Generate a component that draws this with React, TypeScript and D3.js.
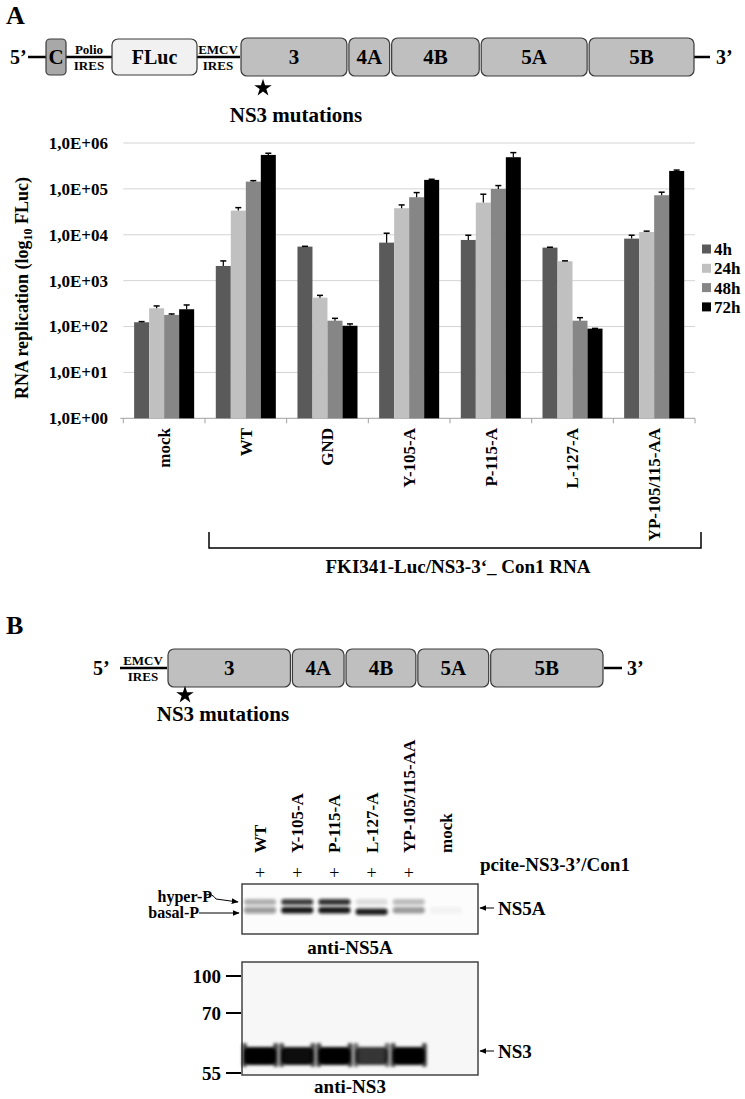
import * as d3 from "d3";

// ---- panel A bar chart data ----
const groups = ["mock", "WT", "GND", "Y-105-A", "P-115-A", "L-127-A", "YP-105/115-AA"];
const timepoints = ["4h", "24h", "48h", "72h"];
const barColors = ["#5a5a5a", "#c0c0c0", "#868686", "#000000"];

const values4h = [124, 2090, 5520, 6740, 7710, 5250, 8240];
const values24h = [250, 33600, 426, 37900, 50200, 2650, 11500];
const values48h = [179, 144000, 134, 65800, 100000, 134, 72700];
const values72h = [238, 550000, 104, 157000, 490000, 90, 246000];

const err4h = [4, 600, 80, 4060, 2060, 100, 1530];
const err24h = [31, 5400, 52, 6800, 26300, 50, 500];
const err48h = [9, 7000, 17, 17200, 18000, 22, 12000];
const err72h = [57, 48000, 10, 5000, 127000, 1, 11000];

const yTicks = [1, 10, 100, 1e3, 1e4, 1e5, 1e6];
const yTickLabels = ["1,0E+00", "1,0E+01", "1,0E+02", "1,0E+03", "1,0E+04", "1,0E+05", "1,0E+06"];

// ---- construct schematics (relative segment lengths) ----
const segA = ["3", "4A", "4B", "5A", "5B"];
const segALen = [106, 42, 88, 106, 105];
const segB = ["3", "4A", "4B", "5A", "5B"];
const segBLen = [123, 53, 71, 72, 113];

// ---- western blot ----
const lanes = ["WT", "Y-105-A", "P-115-A", "L-127-A", "YP-105/115-AA", "mock"];
const transfected = [true, true, true, true, true, false];
const hyperP = [0.3, 0.8, 0.85, 0.12, 0.25, 0];
const basalP = [0.42, 0.95, 0.95, 0.92, 0.38, 0.04];
const ns3Band = [1, 0.95, 1, 0.78, 1, 0];
const mwMarkers = [100, 70, 55];

const font = "'Liberation Serif', 'Times New Roman', serif";

function segmentsLayout(lens: number[], x0: number, x1: number) {
  const total = d3.sum(lens);
  const sc = d3.scaleLinear().domain([0, total]).range([x0, x1]);
  const cum = d3.cumsum(lens);
  return lens.map((l, i) => ({ x: sc(cum[i] - l), w: sc(cum[i]) - sc(cum[i] - l) }));
}

function Construct({ labels, lens, x0, x1, y, h, size }: any) {
  const segs = segmentsLayout(lens, x0, x1);
  return (
    <g>
      {segs.map((s, i) => (
        <g key={i}>
          <rect x={s.x + 1} y={y - h / 2} width={s.w - 2} height={h} rx={6} fill="#bfbfbf" stroke="#3a3a3a" strokeWidth={1.2} />
          <text x={s.x + s.w / 2} y={y} dy="0.35em" textAnchor="middle" fontSize={size} fontWeight="bold">{labels[i]}</text>
        </g>
      ))}
    </g>
  );
}

export default function App() {
  const W = 745, H = 1099;
  const plotL = 123.3, plotR = 695, plotT = 143, plotB = 418.3;

  const x = d3.scaleBand().domain(groups).range([plotL, plotR]).paddingInner(0.265).paddingOuter(0.1325);
  const xs = d3.scaleBand().domain(timepoints).range([0, x.bandwidth()]);
  const y = d3.scaleLog().domain([1, 1e6]).range([plotB, plotT]);
  const series = [values4h, values24h, values48h, values72h];
  const errs = [err4h, err24h, err48h, err72h];
  const step = (plotR - plotL) / groups.length;

  const lane = d3.scaleBand().domain(lanes).range([240, 466]).padding(0.08);
  const mw = d3.scaleLinear().domain([55, 70, 100]).range([1073, 1013, 976]);
  const star = d3.symbol().type(d3.symbolStar).size(95)();

  const segA0 = 240, segA1 = 695;
  const segB0 = 167, segB1 = 604;

  return (
    <svg width={W} height={H} style={{ position: "absolute", left: 0, top: 0, background: "#fff" }} fontFamily={font}>
      <defs>
        <filter id="blur" x="-20%" y="-50%" width="140%" height="200%">
          <feGaussianBlur stdDeviation="1.8" />
        </filter>
        <marker id="arr" viewBox="0 0 10 10" refX="9" refY="5" markerWidth="7" markerHeight="7" orient="auto">
          <path d="M0,1 L10,5 L0,9 z" fill="#000" />
        </marker>
      </defs>

      {/* ===== Panel A ===== */}
      <text x={6} y={24} fontSize={26} fontWeight="bold">A</text>

      {/* construct A */}
      <g>
        <text x={10} y={57} dy="0.35em" fontSize={20} fontWeight="bold">5’</text>
        <line x1={28} x2={240} y1={57} y2={57} stroke="#000" strokeWidth={2.5} />
        <line x1={694} x2={710} y1={57} y2={57} stroke="#000" strokeWidth={2.5} />
        <text x={716} y={57} dy="0.35em" fontSize={20} fontWeight="bold">3’</text>
        <rect x={46} y={39} width={20} height={36} rx={4} fill="#a8a8a8" stroke="#3a3a3a" strokeWidth={1.2} />
        <text x={56} y={57} dy="0.35em" textAnchor="middle" fontSize={21} fontWeight="bold">C</text>
        <text x={89} y={54} textAnchor="middle" fontSize={13} fontWeight="bold">Polio</text>
        <text x={89} y={70} textAnchor="middle" fontSize={13} fontWeight="bold">IRES</text>
        <rect x={112} y={39} width={85} height={36} rx={6} fill="#f1f1f1" stroke="#3a3a3a" strokeWidth={1.2} />
        <text x={154.5} y={57} dy="0.35em" textAnchor="middle" fontSize={20} fontWeight="bold">FLuc</text>
        <text x={218} y={54} textAnchor="middle" fontSize={13} fontWeight="bold">EMCV</text>
        <text x={218} y={70} textAnchor="middle" fontSize={13} fontWeight="bold">IRES</text>
        <Construct labels={segA} lens={segALen} x0={segA0} x1={segA1} y={57} h={38} size={21} />
        <path d={star!} transform="translate(263,88)" fill="#000" />
        <text x={296} y={122} textAnchor="middle" fontSize={21} fontWeight="bold">NS3 mutations</text>
      </g>

      {/* grid + axes */}
      <g>
        {yTicks.slice(1).map((t) => (
          <line key={t} x1={plotL} x2={plotR} y1={y(t)} y2={y(t)} stroke="#d4d4d4" strokeWidth={1} />
        ))}
        <line x1={plotL - 3} x2={plotR} y1={plotB} y2={plotB} stroke="#a0a0a0" strokeWidth={1} />
        {d3.range(groups.length + 1).map((i) => (
          <line key={i} x1={plotL + i * step} x2={plotL + i * step} y1={plotB} y2={plotB + 5} stroke="#a0a0a0" />
        ))}
        {yTicks.map((t, i) => (
          <text key={t} x={108} y={y(t)} dy="0.35em" textAnchor="end" fontSize={17} fontWeight="bold">{yTickLabels[i]}</text>
        ))}
        <text transform="translate(28,288) rotate(-90)" textAnchor="middle" fontSize={18} fontWeight="bold">
          RNA replication (log<tspan fontSize={12} dy={4}>10</tspan><tspan dy={-4}> FLuc)</tspan>
        </text>
      </g>

      {/* bars */}
      <g>
        {groups.map((g, gi) => (
          <g key={g} transform={`translate(${x(g)},0)`}>
            {timepoints.map((t, ti) => {
              const v = series[ti][gi];
              const e = errs[ti][gi];
              const bx = xs(t)!;
              const cx = bx + xs.bandwidth() / 2;
              return (
                <g key={t}>
                  <rect x={bx} y={y(v)} width={xs.bandwidth()} height={plotB - y(v)} fill={barColors[ti]} />
                  <line x1={cx} x2={cx} y1={y(v)} y2={y(v + e)} stroke="#000" strokeWidth={1.2} />
                  <line x1={cx - 3} x2={cx + 3} y1={y(v + e)} y2={y(v + e)} stroke="#000" strokeWidth={1.5} />
                </g>
              );
            })}
          </g>
        ))}
      </g>

      {/* x labels */}
      {groups.map((g) => {
        const cx = x(g)! + x.bandwidth() / 2;
        return (
          <text key={g} transform={`translate(${cx + 6},428) rotate(-90)`} textAnchor="end" fontSize={17} fontWeight="bold">{g}</text>
        );
      })}

      {/* legend */}
      {timepoints.map((t, i) => (
        <g key={t} transform={`translate(702,${249 + i * 19.3})`}>
          <rect x={0} y={-4.5} width={9} height={9} fill={barColors[i]} />
          <text x={12} y={0} dy="0.35em" fontSize={17} fontWeight="bold">{t}</text>
        </g>
      ))}

      {/* bracket */}
      <path d="M209,532 V548 H701 V532" fill="none" stroke="#000" strokeWidth={1.5} />
      <text x={458} y={573} textAnchor="middle" fontSize={19} fontWeight="bold">FKI341-Luc/NS3-3‘_ Con1 RNA</text>

      {/* ===== Panel B ===== */}
      <text x={6} y={634} fontSize={26} fontWeight="bold">B</text>
      <g>
        <text x={93} y={668} dy="0.35em" fontSize={20} fontWeight="bold">5’</text>
        <line x1={120} x2={167} y1={668} y2={668} stroke="#000" strokeWidth={2.5} />
        <text x={143} y={665} textAnchor="middle" fontSize={13} fontWeight="bold">EMCV</text>
        <text x={143} y={681} textAnchor="middle" fontSize={13} fontWeight="bold">IRES</text>
        <line x1={604} x2={622} y1={668} y2={668} stroke="#000" strokeWidth={2.5} />
        <text x={627} y={668} dy="0.35em" fontSize={20} fontWeight="bold">3’</text>
        <Construct labels={segB} lens={segBLen} x0={segB0} x1={segB1} y={668} h={38} size={21} />
        <path d={star!} transform="translate(185,695)" fill="#000" />
        <text x={223} y={721} textAnchor="middle" fontSize={21} fontWeight="bold">NS3 mutations</text>
      </g>

      {/* lane labels */}
      {lanes.map((l, i) => {
        const cx = lane(l)! + lane.bandwidth() / 2;
        return (
          <g key={l}>
            <text transform={`translate(${cx + 6},853) rotate(-90)`} textAnchor="start" fontSize={17} fontWeight="bold">{l}</text>
            {transfected[i] && (
              <text x={cx} y={879} textAnchor="middle" fontSize={18}>+</text>
            )}
          </g>
        );
      })}
      <text x={480} y={871} fontSize={19} fontWeight="bold">pcite-NS3-3’/Con1</text>

      {/* NS5A blot */}
      <rect x={242} y={884} width={236} height={50} fill="#fcfcfc" stroke="#444" strokeWidth={1.5} />
      <g filter="url(#blur)">
        {lanes.map((l, i) => {
          const bx = lane(l)!;
          return (
            <g key={l}>
              <rect x={bx + 1} y={899} width={lane.bandwidth() - 2} height={6} rx={3} fill="#111" opacity={hyperP[i]} />
              <rect x={bx + 1} y={907 + (i === 3 ? 1.5 : 0)} width={lane.bandwidth() - 2} height={6.5} rx={3} fill="#111" opacity={basalP[i]} />
            </g>
          );
        })}
      </g>
      <text x={212} y={902} textAnchor="end" fontSize={16} fontWeight="bold">hyper-P</text>
      <path d="M206,895 Q212,893 216,899 L238,902" fill="none" stroke="#000" strokeWidth={1} markerEnd="url(#arr)" />
      <text x={199} y={918} textAnchor="end" fontSize={16} fontWeight="bold">basal-P</text>
      <line x1={199} x2={239} y1={913} y2={913} stroke="#000" strokeWidth={1} markerEnd="url(#arr)" />
      <line x1={494} x2={480} y1={908} y2={908} stroke="#000" strokeWidth={1} markerEnd="url(#arr)" />
      <text x={498} y={908} dy="0.35em" fontSize={19} fontWeight="bold">NS5A</text>
      <text x={350} y={954} textAnchor="middle" fontSize={19} fontWeight="bold">anti-NS5A</text>

      {/* NS3 blot */}
      <rect x={242} y={962} width={236} height={113} fill="#f7f7f7" stroke="#444" strokeWidth={1.5} />
      <g filter="url(#blur)">
        {lanes.map((l, i) => {
          const bx = lane(l)!;
          return (
            <g key={l}>
              <rect x={bx + 1} y={1047} width={lane.bandwidth() - 2} height={18} rx={5} fill="#050505" opacity={ns3Band[i]} />
              <rect x={bx - 1} y={1043} width={5} height={24} rx={2} fill="#050505" opacity={ns3Band[i] * 0.7} />
              <rect x={bx + lane.bandwidth() - 4} y={1043} width={5} height={24} rx={2} fill="#050505" opacity={ns3Band[i] * 0.7} />
            </g>
          );
        })}
      </g>
      {mwMarkers.map((m) => (
        <g key={m}>
          <line x1={226} x2={241} y1={mw(m)} y2={mw(m)} stroke="#000" strokeWidth={2} />
          <text x={221} y={mw(m)} dy="0.35em" textAnchor="end" fontSize={19} fontWeight="bold">{m}</text>
        </g>
      ))}
      <line x1={494} x2={480} y1={1051} y2={1051} stroke="#000" strokeWidth={1} markerEnd="url(#arr)" />
      <text x={498} y={1051} dy="0.35em" fontSize={19} fontWeight="bold">NS3</text>
      <text x={350} y={1093} textAnchor="middle" fontSize={19} fontWeight="bold">anti-NS3</text>
    </svg>
  );
}
